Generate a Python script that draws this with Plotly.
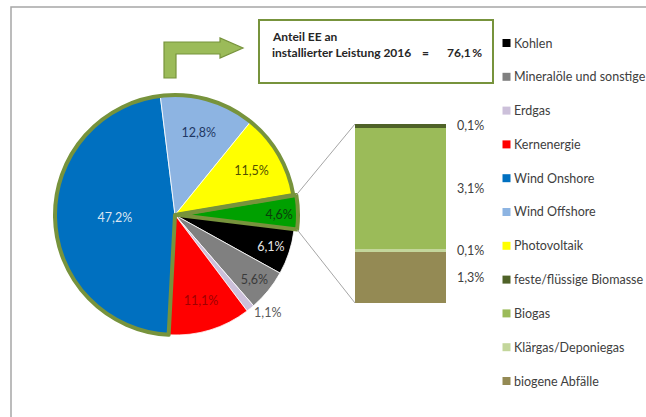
import math
import plotly.graph_objects as go

# Installed capacity shares 2016 (%), pie part
pie_labels = ["Kohlen", "Mineralöle und sonstige", "Erdgas", "Kernenergie",
              "Wind Onshore", "Wind Offshore", "Photovoltaik", "Biomasse"]
pie_values = [6.1, 5.6, 1.1, 11.1, 47.2, 12.8, 11.5, 4.6]
pie_colors = ["#000000", "#808080", "#ccc0da", "#ff0000",
              "#0070c0", "#8db4e2", "#ffff00", "#00a000"]
pie_text_colors = ["#e6e6e6", "#3a3a3a", "#595959", "#a00000",
                   "#dbe5f1", "#1f3864", "#4f4f00", "#0b3d0b"]
renewable = [False, False, False, False, True, True, True, True]

# Breakdown of the biomass slice (bottom to top)
bio_labels = ["biogene Abfälle", "Klärgas/Deponiegas", "Biogas", "feste/flüssige Biomasse"]
bio_values = [1.3, 0.1, 3.1, 0.1]
bio_colors = ["#948a54", "#c3d69b", "#9bbb59", "#4f6228"]

# Legend order
legend_labels = pie_labels[:7] + ["feste/flüssige Biomasse", "Biogas",
                                  "Klärgas/Deponiegas", "biogene Abfälle"]
legend_colors = pie_colors[:7] + ["#4f6228", "#9bbb59", "#c3d69b", "#948a54"]

W, H = 646, 417
FONT = "Lato"
OLIVE = "#77933c"


def px(x):
    return x / W


def py(y):
    return 1 - y / H


def pct(v):
    return f"{v:.1f}%".replace(".", ",")


ROT = 97
PULL = 0.025
CX, CY, R = 175, 215, 120
half = R * (1 + PULL)
pie_domain = dict(x=[px(CX - half), px(CX + half)], y=[py(CY + half), py(CY - half)])

fig = go.Figure()

pulls = [PULL if l == "Biomasse" else 0 for l in pie_labels]
fig.add_trace(go.Pie(
    labels=pie_labels, values=pie_values, sort=False, direction="clockwise",
    rotation=ROT, pull=pulls, domain=pie_domain,
    marker=dict(colors=pie_colors, line=dict(color="white", width=0.8)),
    text=[pct(v) for v in pie_values], textinfo="text",
    textposition=["outside" if l == "Erdgas" else "inside" for l in pie_labels],
    insidetextorientation="horizontal",
    textfont=dict(family=FONT, size=12.5, color=pie_text_colors),
    showlegend=False, hoverinfo="label+text",
))

# Olive outline around the renewable share
non_ren = sum(v for v, r in zip(pie_values, renewable) if not r)
wind_pv = sum(v for v, r, l in zip(pie_values, renewable, pie_labels) if r and l != "Biomasse")
bio_total = sum(bio_values)
fig.add_trace(go.Pie(
    labels=["konventionell", "Wind/PV", "Biomasse gesamt"],
    values=[non_ren, wind_pv, bio_total], sort=False, direction="clockwise",
    rotation=ROT, pull=[0, 0, PULL], domain=pie_domain,
    marker=dict(colors=["rgba(0,0,0,0)"] * 3,
                line=dict(color=["rgba(0,0,0,0)", OLIVE, OLIVE], width=[0, 4, 4])),
    textinfo="none", showlegend=False, hoverinfo="skip",
))

# Stacked biomass bar
bar_x0, bar_x1, bar_top, bar_bot = 355, 446, 124, 303
for lab, val, col in zip(bio_labels, bio_values, bio_colors):
    fig.add_trace(go.Bar(
        x=[0], y=[val], name=lab, width=1, marker=dict(color=col, line=dict(width=0)),
        showlegend=False, hovertemplate=lab + ": " + pct(val) + "<extra></extra>",
    ))

annotations = []
cum = 0
for val in bio_values:
    annotations.append(dict(
        x=px(455), xref="paper", y=cum + val / 2, yref="y", text=pct(val),
        showarrow=False, xanchor="left", yanchor="middle",
        font=dict(family=FONT, size=12.5, color="#404040"),
    ))
    cum += val

# Connector lines from the biomass slice to the bar
start_b = ROT + sum(pie_values[:-1]) * 3.6
end_b = ROT + 100 * 3.6
mid_b = math.radians((start_b + end_b) / 2)
ox, oy = R * PULL * math.sin(mid_b), -R * PULL * math.cos(mid_b)
shapes = []
for ang, ybar in ((start_b, bar_top), (end_b, bar_bot)):
    a = math.radians(ang)
    x0 = CX + ox + R * math.sin(a)
    y0 = CY + oy - R * math.cos(a)
    shapes.append(dict(type="line", xref="paper", yref="paper",
                       x0=px(x0), y0=py(y0), x1=px(bar_x0), y1=py(ybar),
                       line=dict(color="#a6a6a6", width=1)))

# Outer frame
shapes.append(dict(type="rect", xref="paper", yref="paper",
                   x0=px(11), y0=py(7), x1=px(660), y1=py(430),
                   line=dict(color="#a6a6a6", width=1.5), layer="below"))

# Bent arrow pointing to the info box
arrow_pts = [(164, 78), (164, 42), (220, 42), (220, 38), (243, 48), (220, 58),
             (220, 54), (176, 54), (176, 78)]
path = "M " + " L ".join(f"{px(x):.5f},{py(y):.5f}" for x, y in arrow_pts) + " Z"
shapes.append(dict(type="path", xref="paper", yref="paper", path=path,
                   fillcolor="#9bbb59", line=dict(color=OLIVE, width=1.2)))

# Info box
shapes.append(dict(type="rect", xref="paper", yref="paper",
                   x0=px(259), y0=py(83), x1=px(493), y1=py(20),
                   fillcolor="white", line=dict(color=OLIVE, width=2)))
ee_share = sum(v for v, r in zip(pie_values, renewable) if r)
box_font = dict(family=FONT, size=12, color="#262626")
annotations += [
    dict(x=px(270), y=py(36), xref="paper", yref="paper", text="<b>Anteil EE an</b>",
         showarrow=False, xanchor="left", yanchor="middle", font=box_font),
    dict(x=px(270), y=py(53), xref="paper", yref="paper",
         text="<b>installierter Leistung 2016</b>",
         showarrow=False, xanchor="left", yanchor="middle", font=box_font),
    dict(x=px(425), y=py(53), xref="paper", yref="paper", text="<b>=</b>",
         showarrow=False, xanchor="center", yanchor="middle", font=box_font),
    dict(x=px(484), y=py(53), xref="paper", yref="paper",
         text="<b>" + f"{ee_share:.1f}".replace(".", ",") + "\u2009%</b>",
         showarrow=False, xanchor="right", yanchor="middle", font=box_font),
]

# Legend drawn as squares and labels
for i, (lab, col) in enumerate(zip(legend_labels, legend_colors)):
    yc = 43 + i * 33.8
    shapes.append(dict(type="rect", xref="paper", yref="paper",
                       x0=px(502.5), x1=px(510.5), y0=py(yc + 4), y1=py(yc - 4),
                       fillcolor=col, line=dict(width=0)))
    annotations.append(dict(
        x=px(511.5), y=py(yc), xref="paper", yref="paper", text=lab,
        showarrow=False, xanchor="left", yanchor="middle",
        font=dict(family=FONT, size=12.5, color="#404040"),
    ))

fig.update_layout(
    width=W, height=H, margin=dict(l=0, r=0, t=0, b=0),
    paper_bgcolor="white", plot_bgcolor="rgba(0,0,0,0)",
    barmode="stack", bargap=0,
    xaxis=dict(domain=[px(bar_x0), px(bar_x1)], range=[-0.5, 0.5], visible=False,
               fixedrange=True),
    yaxis=dict(domain=[py(bar_bot), py(bar_top)], range=[0, bio_total], visible=False,
               fixedrange=True),
    shapes=shapes, annotations=annotations, showlegend=False,
)

fig.write_html("out.html")
